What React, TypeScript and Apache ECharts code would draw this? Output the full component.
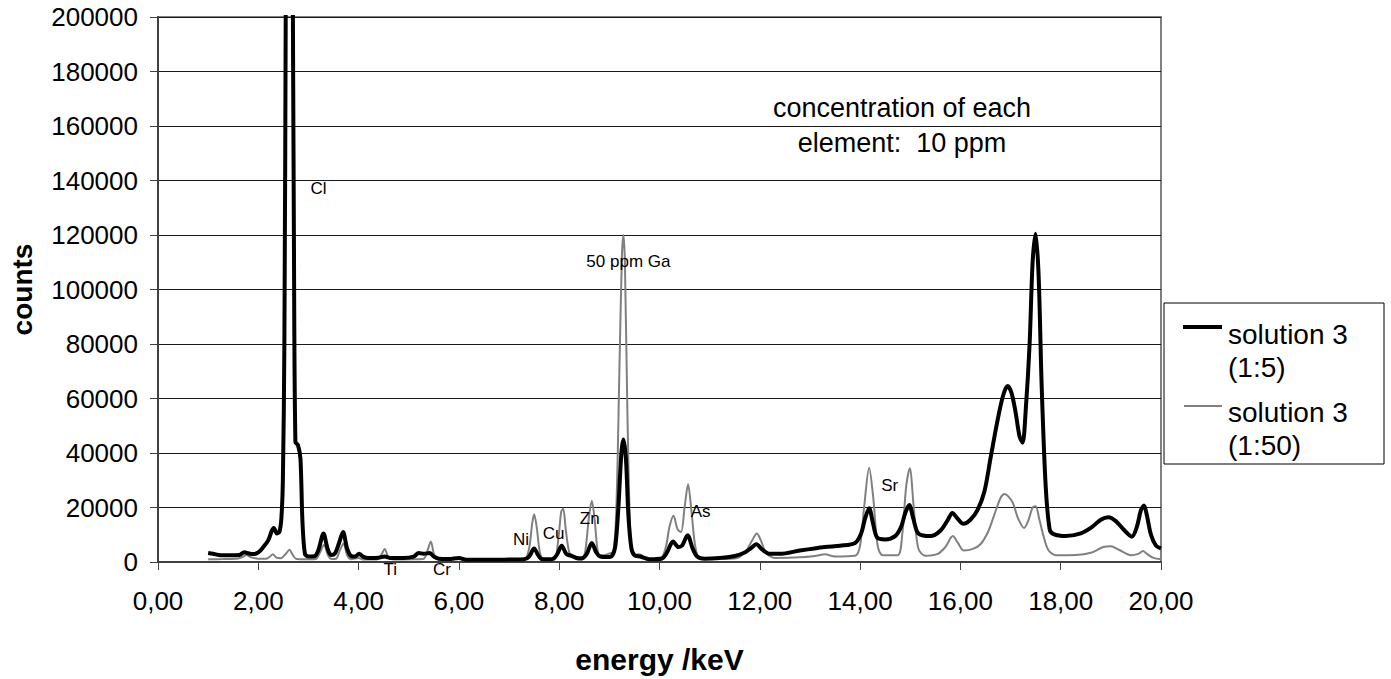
import React, { useEffect, useRef } from "react";
import * as echarts from "echarts";

// energy (keV) and counts for solution 3 (1:5)
const blackEnergy = [
  1.0, 1.1, 1.25, 1.45, 1.62, 1.72, 1.8, 1.9, 2.0, 2.1, 2.2, 2.27, 2.31, 2.37, 2.42, 2.46, 2.49, 2.52, 2.55,
  2.58, 2.62, 2.65, 2.68, 2.71, 2.74, 2.79, 2.84, 2.88, 2.93, 3.0, 3.12, 3.2, 3.3, 3.38, 3.45, 3.53, 3.61,
  3.69, 3.77, 3.85, 3.93, 4.01, 4.09, 4.2, 4.4, 4.52, 4.62, 4.9, 5.1, 5.2, 5.3, 5.42, 5.5, 5.6, 5.8, 6.0,
  6.15, 6.6, 7.0, 7.3, 7.4, 7.5, 7.58, 7.66, 7.85, 7.95, 8.05, 8.14, 8.25, 8.35, 8.45, 8.55, 8.65, 8.74,
  8.82, 8.95, 9.05, 9.12, 9.18, 9.24, 9.28, 9.33, 9.38, 9.44, 9.5, 9.62, 9.8, 10.05, 10.15, 10.27, 10.38,
  10.45, 10.56, 10.66, 10.75, 10.9, 11.2, 11.5, 11.7, 11.82, 11.93, 12.05, 12.2, 12.4, 12.8, 13.3, 13.6,
  13.9, 14.02, 14.1, 14.18, 14.26, 14.34, 14.5, 14.7, 14.82, 14.9, 14.98, 15.06, 15.16, 15.4, 15.6, 15.75,
  15.84, 15.94, 16.06, 16.2, 16.34, 16.48, 16.6, 16.73, 16.85, 16.94, 17.02, 17.1, 17.18, 17.24, 17.3,
  17.38, 17.44, 17.5, 17.56, 17.62, 17.7, 17.78, 17.86, 18.1, 18.4, 18.6, 18.8, 18.95, 19.1, 19.25, 19.42,
  19.52, 19.6, 19.66, 19.72, 19.8, 19.9, 20.0,
];
const blackCounts = [
  3300, 3000, 2500, 2500, 2600, 3600, 3200, 2900, 3500, 5500, 8000, 11500, 12500, 10500, 11000, 16000, 30000,
  80000, 220000, 450000, 550000, 450000, 250000, 120000, 44000, 43000, 38000, 15000, 3000, 2000, 2100, 4500,
  10500, 5000, 2600, 3200, 7000, 11000, 5000, 2200, 2000, 3000, 2000, 1500, 1600, 2000, 1500, 1500, 2000,
  3300, 3000, 3300, 2000, 1200, 1100, 1500, 800, 800, 900, 1000, 2000, 5000, 2500, 1000, 1000, 2500, 6000,
  3000, 2200, 1500, 1400, 3000, 7000, 3500, 2000, 1800, 2200, 6000, 20000, 40000, 45000, 38000, 17000, 5000,
  2500, 2000, 1000, 1300, 3500, 7500, 5500, 6000, 9800, 5000, 2000, 1200, 1500, 2200, 3500, 5000, 6500,
  4500, 3000, 3000, 4200, 5500, 6000, 7000, 10500, 16000, 19700, 14000, 9000, 8300, 9500, 13000, 18000,
  20900, 16000, 10500, 9500, 11500, 15500, 18000, 16000, 14000, 15500, 19000, 26000, 38000, 51000, 61000,
  64600, 62000, 55000, 46000, 43800, 55000, 80000, 110000, 120500, 105000, 65000, 28000, 12000, 10200, 9500,
  10500, 12500, 15500, 16400, 15000, 12000, 9300, 13000, 19000, 20700, 17000, 10000, 6000, 5000,
];

// energy (keV) and counts for solution 3 (1:50)
const grayEnergy = [
  1.0, 1.3, 1.6, 1.7, 1.76, 1.85, 2.0, 2.15, 2.22, 2.29, 2.36, 2.45, 2.55, 2.62, 2.69, 2.76, 3.0, 3.15,
  3.23, 3.31, 3.39, 3.46, 3.55, 3.62, 3.7, 3.77, 3.85, 4.0, 4.1, 4.35, 4.45, 4.52, 4.59, 4.7, 5.1, 5.3,
  5.37, 5.44, 5.51, 5.6, 5.9, 6.0, 6.1, 6.5, 7.0, 7.3, 7.4, 7.46, 7.5, 7.55, 7.62, 7.7, 7.9, 7.98, 8.04,
  8.08, 8.13, 8.2, 8.26, 8.35, 8.45, 8.52, 8.59, 8.65, 8.71, 8.78, 8.88, 8.98, 9.08, 9.14, 9.2, 9.25, 9.28,
  9.31, 9.36, 9.42, 9.48, 9.58, 9.64, 9.75, 10.0, 10.12, 10.2, 10.28, 10.36, 10.43, 10.5, 10.57, 10.64,
  10.72, 10.82, 11.2, 11.55, 11.72, 11.85, 11.94, 12.02, 12.12, 12.3, 12.8, 13.1, 13.3, 13.5, 13.9, 14.0,
  14.08, 14.18, 14.26, 14.35, 14.45, 14.75, 14.84, 14.92, 14.99, 15.07, 15.16, 15.3, 15.55, 15.7, 15.85,
  15.95, 16.07, 16.25, 16.4, 16.55, 16.67, 16.8, 16.88, 16.96, 17.05, 17.15, 17.27, 17.35, 17.44, 17.5,
  17.57, 17.65, 17.75, 17.9, 18.3, 18.6, 18.85, 19.0, 19.15, 19.4, 19.55, 19.64, 19.72, 19.85, 20.0,
];
const grayCounts = [
  1000, 1100, 1300, 2000, 2600, 1800, 1200, 1200, 1800, 2800, 1600, 1400, 3000, 4500, 2500, 1100, 1000, 1100,
  3500, 6200, 2500, 1100, 1200, 4000, 6800, 2500, 1000, 1500, 900, 900, 2500, 4800, 2000, 900, 1000, 1200,
  4000, 7500, 2500, 900, 1000, 1500, 700, 600, 700, 800, 5000, 14000, 17500, 13000, 3000, 800, 800, 8000,
  18500, 19500, 12000, 3500, 2500, 1000, 800, 4000, 16000, 22500, 15000, 3000, 2500, 3000, 4000, 20000,
  70000, 112000, 120000, 110000, 55000, 10000, 2500, 2800, 2500, 800, 900, 5000, 13000, 17000, 12000, 11000,
  20000, 28500, 18000, 5000, 1200, 1100, 1500, 4000, 8000, 10500, 8000, 3500, 1500, 1700, 2200, 2800, 2000,
  2300, 6000, 20000, 34600, 24000, 6000, 2500, 2500, 10000, 28000, 34400, 20000, 5000, 2300, 3000, 5500,
  9500, 7000, 4200, 4800, 6500, 11000, 17000, 23500, 25000, 24000, 21500, 16000, 12500, 15000, 20000, 20500,
  16000, 10000, 4500, 2500, 2600, 3400, 5500, 5800, 4600, 2500, 3000, 4000, 3000, 1500, 1000,
];

const seriesNames = ["solution 3\n(1:5)", "solution 3\n(1:50)"];

// element labels: [energy keV, counts, text]
const annotationEnergy = [3.2, 9.38, 7.24, 7.89, 8.61, 10.82, 14.59, 4.63, 5.66];
const annotationCounts = [136900, 110100, 8100, 10300, 16100, 18400, 27900, -2600, -2600];
const annotationText = ["Cl", "50 ppm Ga", "Ni", "Cu", "Zn", "As", "Sr", "Ti", "Cr"];

const noteLines = ["concentration of each", "element:  10 ppm"];

const xTicks = { min: 0, max: 20, interval: 2 };
const yTicks = { min: 0, max: 200000, interval: 20000 };

const FONT = '"Liberation Sans", Arial, Helvetica, sans-serif';

export default function App() {
  const ref = useRef<HTMLDivElement>(null);

  useEffect(() => {
    if (!ref.current) return;
    const chart = echarts.init(ref.current, null, { renderer: "svg" });
    const black = blackEnergy.map((e, i) => [e, blackCounts[i]]);
    const gray = grayEnergy.map((e, i) => [e, grayCounts[i]]);

    chart.setOption({
      animation: false,
      backgroundColor: "#ffffff",
      grid: {
        left: 155,
        right: 230,
        top: 17,
        bottom: 117,
        show: true,
        borderColor: "#808080",
        borderWidth: 2,
        backgroundColor: "transparent",
      },
      legend: { show: false },
      xAxis: {
        type: "value",
        min: xTicks.min,
        max: xTicks.max,
        interval: xTicks.interval,
        name: "energy /keV",
        nameLocation: "middle",
        nameGap: 82,
        nameTextStyle: { fontFamily: FONT, fontSize: 30, fontWeight: "bold", color: "#000" },
        axisLine: { show: true, onZero: false, lineStyle: { color: "#404040", width: 2 } },
        axisTick: { show: true, length: 8, inside: false, lineStyle: { color: "#404040", width: 1 } },
        axisLabel: {
          fontFamily: FONT,
          fontSize: 26,
          color: "#000",
          margin: 26,
          formatter: (v: number) => v.toFixed(2).replace(".", ","),
        },
        splitLine: { show: false },
      },
      yAxis: {
        type: "value",
        min: yTicks.min,
        max: yTicks.max,
        interval: yTicks.interval,
        name: "counts",
        nameLocation: "middle",
        nameGap: 122,
        nameRotate: 90,
        nameTextStyle: { fontFamily: FONT, fontSize: 28, fontWeight: "bold", color: "#000" },
        axisLine: { show: true, lineStyle: { color: "#404040", width: 2 } },
        axisTick: { show: true, length: 8, lineStyle: { color: "#404040", width: 1 } },
        axisLabel: {
          fontFamily: FONT,
          fontSize: 26,
          color: "#000",
          margin: 20,
          formatter: (v: number) => String(Math.round(v)),
        },
        splitLine: { show: true, lineStyle: { color: "#1a1a1a", width: 1 } },
      },
      series: [
        {
          name: seriesNames[1],
          type: "line",
          data: gray,
          showSymbol: false,
          smooth: 0.3,
          clip: true,
          lineStyle: { color: "#808080", width: 2 },
          itemStyle: { color: "#808080" },
          z: 2,
        },
        {
          name: seriesNames[0],
          type: "line",
          data: black,
          showSymbol: false,
          smooth: 0.3,
          clip: true,
          lineStyle: { color: "#000000", width: 4 },
          itemStyle: { color: "#000000" },
          z: 3,
        },
      ],
    });

    const annGraphics = annotationText.map((t, i) => {
      const p = chart.convertToPixel({ gridIndex: 0 }, [annotationEnergy[i], annotationCounts[i]]) as number[];
      return {
        type: "text",
        x: p[0],
        y: p[1],
        z: 20,
        style: {
          text: t,
          fontFamily: FONT,
          fontSize: 17,
          fill: "#000",
          align: "center",
          verticalAlign: "middle",
        },
      };
    });

    const legendGraphics = [
      {
        type: "rect",
        shape: { x: 1164, y: 303, width: 220, height: 161 },
        style: { fill: "#ffffff", stroke: "#000000", lineWidth: 1 },
        z: 10,
      },
      {
        type: "line",
        shape: { x1: 1183, y1: 327, x2: 1222, y2: 327 },
        style: { stroke: "#000000", lineWidth: 4 },
        z: 11,
      },
      {
        type: "text",
        x: 1228,
        y: 318,
        z: 11,
        style: {
          text: seriesNames[0],
          fontFamily: FONT,
          fontSize: 28,
          lineHeight: 33,
          fill: "#000",
          align: "left",
          verticalAlign: "top",
        },
      },
      {
        type: "line",
        shape: { x1: 1184, y1: 406, x2: 1222, y2: 406 },
        style: { stroke: "#808080", lineWidth: 2 },
        z: 11,
      },
      {
        type: "text",
        x: 1228,
        y: 396,
        z: 11,
        style: {
          text: seriesNames[1],
          fontFamily: FONT,
          fontSize: 28,
          lineHeight: 33,
          fill: "#000",
          align: "left",
          verticalAlign: "top",
        },
      },
    ];

    const noteGraphics = [
      {
        type: "text",
        x: 902,
        y: 125,
        z: 20,
        style: {
          text: noteLines.join("\n"),
          fontFamily: FONT,
          fontSize: 27,
          lineHeight: 35,
          fill: "#000",
          align: "center",
          verticalAlign: "middle",
        },
      },
    ];

    chart.setOption({ graphic: [...legendGraphics, ...noteGraphics, ...annGraphics] });

    return () => {
      chart.dispose();
    };
  }, []);

  return (
    <div
      ref={ref}
      style={{ position: "fixed", left: 0, top: 0, width: 1391, height: 679, background: "#fff" }}
    />
  );
}
